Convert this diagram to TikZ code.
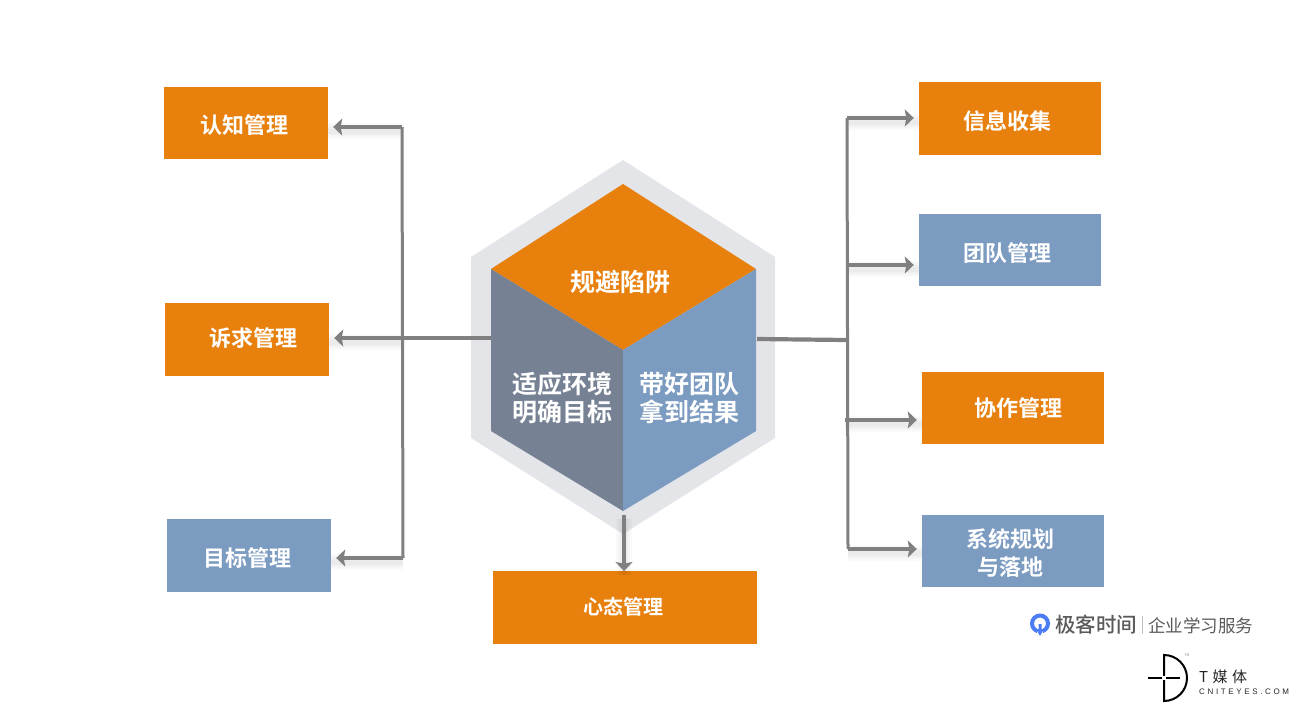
\documentclass[tikz,border=0pt]{standalone}
\usepackage{fontspec}
\usetikzlibrary{arrows.meta}
\newfontfamily\cjk[BoldFont={Noto Sans CJK SC Bold}]{Noto Sans CJK SC}
\newfontfamily\cjkmid{Noto Sans CJK SC Medium}
\newfontfamily\logolatin[LetterSpace=33]{Liberation Sans}
\newfontfamily\logocjk[LetterSpace=30]{Noto Sans CJK SC}
\definecolor{tileorange}{HTML}{E8800D}
\definecolor{tileblue}{HTML}{7C9BC1}
\definecolor{tileslate}{HTML}{768294}
\definecolor{hexgrey}{HTML}{E3E5E9}
\definecolor{armgrey}{HTML}{808080}
\definecolor{logoblue}{HTML}{4C7DF6}
\definecolor{logotext}{HTML}{5A5A5A}
\tikzset{
    tile/.style={minimum height=72.5pt, inner sep=0pt, text=white, align=center,
        font=\cjk\bfseries\fontsize{22}{28}\selectfont},
    tileO/.style={tile, fill=tileorange},
    tileB/.style={tile, fill=tileblue},
    facetext/.style={inner sep=0pt, text=white, align=center,
        font=\cjk\bfseries\fontsize{25}{28}\selectfont},
    arm/.style={draw=armgrey, line width=4.2pt},
    thin arm/.style={draw=armgrey, line width=3pt},
    arrowed/.style={arm, -{Stealth[length=9pt, width=17pt, inset=1.5pt]}, shorten >=5pt},
    haze/.style={draw=black, opacity=0.018, transform canvas={yshift=-4pt}},
}
\begin{document}
\begin{tikzpicture}[x=1pt, y=-1pt]
        \useasboundingbox (0,0) rectangle (1298,712);

        \fill[hexgrey] (623,160) -- (775,257) -- (775,438) -- (623,534) -- (471,438) -- (471,257) -- cycle;
        \fill[tileorange] (623,184) -- (756,269) -- (623,350) -- (491,269) -- cycle;
        \fill[tileslate] (491,269) -- (623,350) -- (623,511) -- (491,431) -- cycle;
        \fill[tileblue] (756,269) -- (623,350) -- (623,511) -- (756,431) -- cycle;

        \node[facetext] (avoid) at (620,282) {规避陷阱};
        \node[facetext] (adapt) at (562,398) {适应环境\\明确目标};
        \node[facetext] (lead) at (689.5,398) {带好团队\\拿到结果};

        \node[tileO, minimum width=164pt] (cognition) at (246,123) {};
        \node[tileO, minimum width=164pt] (appeal) at (247,339.5) {};
        \node[tileB, minimum width=164pt] (goal) at (249,555.5) {};
        \node[tileO, minimum width=182pt] (info) at (1010,118.5) {};
        \node[tileB, minimum width=182pt] (team) at (1010,250) {};
        \node[tileO, minimum width=182pt] (collab) at (1013,408) {};
        \node[tileB, minimum width=182pt] (system) at (1013,551) {};
        \node[tileO, minimum width=264pt] (mindset) at (625,607.5) {};

        \node[tile] (cognitionT) at (244,125) {认知管理};
        \node[tile] (appealT) at (253,338) {诉求管理};
        \node[tile] (goalT) at (247,558) {目标管理};
        \node[tile] (infoT) at (1007,121) {信息收集};
        \node[tile] (teamT) at (1007,253) {团队管理};
        \node[tile] (collabT) at (1018,408) {协作管理};
        \node[tile] (systemT) at (1010,553) {系统规划\\与落地};
        \node[tile, font=\cjk\bfseries\fontsize{20}{24}\selectfont] (mindsetT) at (623,607) {心态管理};

        \coordinate (leftA) at (402,127);
        \coordinate (leftB) at (402,338);
        \coordinate (leftC) at (403,558);
        \coordinate (hexL) at (491,338);
        \coordinate (rightA) at (847,118);
        \coordinate (rightB) at (847,265);
        \coordinate (rightC) at (847,340);
        \coordinate (rightD) at (845,420);
        \coordinate (rightE) at (848,549);
        \coordinate (hexR) at (757,339);
        \coordinate (hexB) at (624,515);

        \foreach \w in {16,12,8,5} {
            \foreach \from/\to in {leftA/cognition.east, leftB/appeal.east, leftC/goal.east, rightA/info.west, rightB/team.west, rightD/collab.west, rightE/system.west}
                \draw[haze, line width=\w pt] (\from) -- (\to |- \from);
            \draw[haze, line width=\w pt, transform canvas={yshift=0pt}] (hexB) -- (mindset.north -| hexB);
        }

        \draw[thin arm] (leftA) -- (leftC);
        \draw[thin arm] (rightA) -- (rightE);
        \draw[arm] (hexL) -- (leftB);
        \draw[arm] (hexR) -- (rightC);
        \draw[arrowed] (leftA) -- (cognition.east |- leftA);
        \draw[arrowed] (leftB) -- (appeal.east |- leftB);
        \draw[arrowed] (leftC) -- (goal.east |- leftC);
        \draw[arrowed] (rightA) -- (info.west |- rightA);
        \draw[arrowed] (rightB) -- (team.west |- rightB);
        \draw[arrowed] (rightD) -- (collab.west |- rightD);
        \draw[arrowed] (rightE) -- (system.west |- rightE);
        \draw[arrowed, shorten >=0pt] (hexB) -- (mindset.north -| hexB);

        \draw[logoblue, line width=4pt] (1040,623.5) circle[radius=8pt];
        \fill[white] (1037,627) rectangle (1043,634);
        \fill[logoblue] (1038.5,624) -- (1041.5,624) -- (1041.5,629) -- (1044,629) -- (1040,636) -- (1036,629) -- (1038.5,629) -- cycle;
        \node[inner sep=0pt, text=logotext, font=\cjkmid\fontsize{20.5}{24}\selectfont] (brand) at (1096,625) {极客时间};
        \node[inner sep=0pt, text=logotext, font=\cjk\fontsize{17.5}{21}\selectfont] (service) at (1200.5,626) {企业学习服务};
        \draw[black!25, line width=0.8pt] (1142,616) -- (1142,634);

        \draw[black, line width=2pt] (1164,655) arc[start angle=90, end angle=-90, radius=23pt] -- cycle;
        \draw[black, line width=2pt] (1148,678) -- (1180,678);
        \fill[white] (1162,676) rectangle (1166,680);
        \node[inner sep=0pt, text=black!45, font=\cjk\fontsize{3.5}{4}\selectfont] (tm) at (1187,655) {TM};
        \node[inner sep=0pt, anchor=west, text=black!85, font=\logocjk\fontsize{15}{18}\selectfont] (tmedia) at (1199,677) {T媒体};
        \node[inner sep=0pt, anchor=west, text=black!85, font=\logolatin\fontsize{8}{10}\selectfont] (cnit) at (1199,692) {CNITEYES.COM};
\end{tikzpicture}
\end{document}
